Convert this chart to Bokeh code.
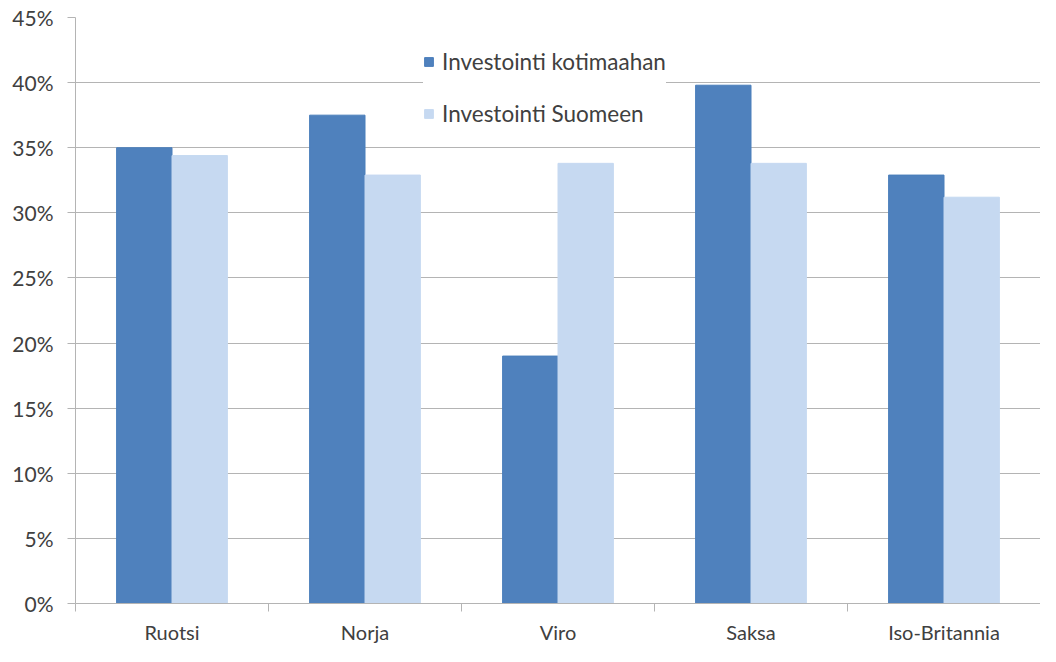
from bokeh.plotting import figure
from bokeh.models import ColumnDataSource, FixedTicker, Range1d, Legend, LegendItem
from bokeh.transform import dodge
from bokeh.embed import file_html
from bokeh.resources import INLINE

categories = ["Ruotsi", "Norja", "Viro", "Saksa", "Iso-Britannia"]
kotimaahan = [35.0, 37.5, 19.0, 39.8, 32.9]
suomeen = [34.4, 32.9, 33.8, 33.8, 31.2]
series_names = ["Investointi kotimaahan", "Investointi Suomeen"]
y_ticks = [0, 5, 10, 15, 20, 25, 30, 35, 40, 45]
y_tick_labels = ["0%", "5%", "10%", "15%", "20%", "25%", "30%", "35%", "40%", "45%"]

centers = [i + 0.5 for i in range(len(categories))]
src = ColumnDataSource(dict(x=centers, a=kotimaahan, b=suomeen))

FONT = "Lato"
TXT = "#404040"
GRID = "#b4b4b4"

p = figure(width=1040, height=646, output_backend="svg", toolbar_location=None,
           x_range=Range1d(0, 5), y_range=Range1d(0, 45),
           min_border_left=75, min_border_right=0, min_border_top=17, min_border_bottom=36)
p.outline_line_color = None
p.background_fill_color = "white"

bw = 0.287
r1 = p.vbar(x=dodge("x", -bw / 2, range=p.x_range), top="a", width=bw, bottom=0, source=src,
            fill_color="#4F81BD", line_color="#4A7EBB", line_width=1)
r2 = p.vbar(x=dodge("x", bw / 2, range=p.x_range), top="b", width=bw, bottom=0, source=src,
            fill_color="#C6D9F1", line_color="#C6D9F1", line_width=1)

# y axis
p.yaxis.ticker = FixedTicker(ticks=y_ticks)
p.yaxis.major_label_overrides = {t: l for t, l in zip(y_ticks, y_tick_labels)}
p.yaxis.axis_line_color = GRID
p.yaxis.major_tick_line_color = GRID
p.yaxis.major_tick_out = 8
p.yaxis.major_tick_in = 0
p.yaxis.minor_tick_line_color = None
p.yaxis.major_label_text_font = FONT
p.yaxis.major_label_text_font_size = "21px"
p.yaxis.major_label_text_color = TXT
p.yaxis.major_label_standoff = 14

# x axis
p.xaxis.ticker = FixedTicker(ticks=centers, minor_ticks=[0, 1, 2, 3, 4, 5])
p.xaxis.major_label_overrides = {c: n for c, n in zip(centers, categories)}
p.xaxis.axis_line_color = GRID
p.xaxis.major_tick_line_color = None
p.xaxis.major_tick_out = 0
p.xaxis.major_tick_in = 0
p.xaxis.minor_tick_line_color = GRID
p.xaxis.minor_tick_out = 8
p.xaxis.minor_tick_in = 0
p.xaxis.major_label_text_font = FONT
p.xaxis.major_label_text_font_size = "20px"
p.xaxis.major_label_text_color = TXT
p.xaxis.major_label_standoff = 8

p.xgrid.grid_line_color = None
p.ygrid.ticker = FixedTicker(ticks=y_ticks)
p.ygrid.grid_line_color = GRID
p.ygrid.grid_line_width = 1

legend = Legend(items=[LegendItem(label=series_names[0], renderers=[r1]),
                       LegendItem(label=series_names[1], renderers=[r2])],
                location=(348, 476), orientation="vertical")
legend.label_text_font = FONT
legend.label_text_font_size = "22.5px"
legend.label_text_color = TXT
legend.glyph_width = 11
legend.glyph_height = 11
legend.spacing = 25
legend.padding = 12
legend.margin = 0
legend.label_standoff = 8
legend.border_line_color = None
legend.background_fill_color = "white"
legend.background_fill_alpha = 1
p.add_layout(legend, "center")

open("out.html", "w").write(file_html(p, INLINE))
